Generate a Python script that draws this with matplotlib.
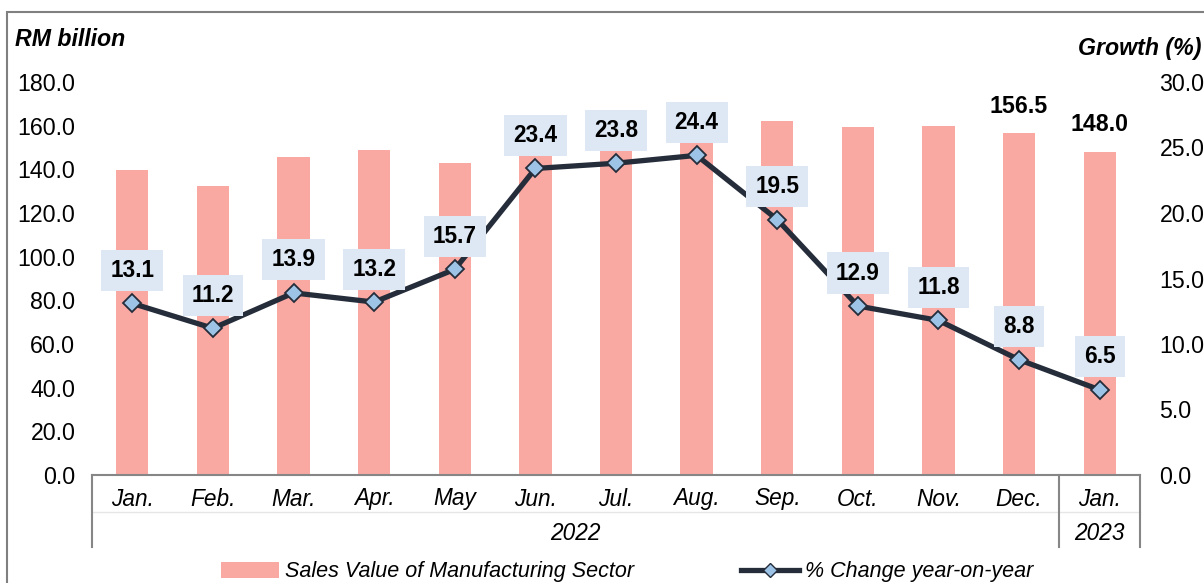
import matplotlib
matplotlib.use("Agg")
import matplotlib.pyplot as plt
from matplotlib.patches import Rectangle
from matplotlib.lines import Line2D

months = ["Jan.", "Feb.", "Mar.", "Apr.", "May", "Jun.", "Jul.", "Aug.",
          "Sep.", "Oct.", "Nov.", "Dec.", "Jan."]
years = ["2022", "2023"]
year_spans = [(0, 11), (12, 12)]
sales = [139.7, 132.4, 145.7, 148.9, 142.9, 148.9, 149.3, 154.5,
         162.1, 159.4, 159.8, 156.5, 148.0]
growth = [13.1, 11.2, 13.9, 13.2, 15.7, 23.4, 23.8, 24.4,
          19.5, 12.9, 11.8, 8.8, 6.5]
bar_label_idx = [11, 12]
left_ticks = [0, 20, 40, 60, 80, 100, 120, 140, 160, 180]
right_ticks = [0, 5, 10, 15, 20, 25, 30]

BAR_C = "#F9A8A2"
LINE_C = "#252D3B"
MARK_C = "#9DC3E6"
BOX_C = "#DDE8F4"
GRAY = "#868686"

plt.rcParams["font.family"] = ["Liberation Sans", "DejaVu Sans"]

W, H = 1204, 583
AX_H = 475 - 82
fig = plt.figure(figsize=(W / 100, H / 100), dpi=100)
ax = fig.add_axes([92 / W, 1 - 475 / H, (1140 - 92) / W, AX_H / H])
ax2 = ax.twinx()

x = list(range(len(months)))
ax.bar(x, sales, width=0.4, color=BAR_C, zorder=1)
ax.set_xlim(-0.5, len(months) - 0.5)
ax.set_ylim(0, 180)
ax.set_yticks(left_ticks)
ax.set_yticklabels([f"{v:.1f}" for v in left_ticks], fontsize=16.7)
ax.tick_params(axis="y", length=0, pad=12)
ax.set_xticks([])
for s in ["top", "left", "right"]:
    ax.spines[s].set_visible(False)
ax.spines["bottom"].set_color(GRAY)
ax.spines["bottom"].set_linewidth(1.5)

ax2.plot(x, growth, color=LINE_C, lw=3.8, marker="D", markersize=9,
         markerfacecolor=MARK_C, markeredgecolor=LINE_C, markeredgewidth=1.3,
         zorder=3)
ax2.set_ylim(0, 30)
ax2.set_yticks(right_ticks)
ax2.set_yticklabels([f"{v:.1f}" for v in right_ticks], fontsize=16.7)
ax2.tick_params(axis="y", length=0, pad=14)
for s in ["top", "left", "right", "bottom"]:
    ax2.spines[s].set_visible(False)
ax.set_zorder(1)
ax2.set_zorder(2)

for xi, g in zip(x, growth):
    ax2.annotate(f"{g:.1f}", (xi, g), xytext=(0, 33), textcoords="offset pixels",
                 ha="center", va="center", fontsize=16.3, fontweight="bold",
                 bbox=dict(boxstyle="square,pad=0.4", fc=BOX_C, ec="none"),
                 zorder=5)

for i in bar_label_idx:
    ax.annotate(f"{sales[i]:.1f}", (i, sales[i]), xytext=(0, 27),
                textcoords="offset pixels", ha="center", va="center",
                fontsize=16.7, fontweight="bold")

# hierarchical category axis
tr = ax.get_xaxis_transform()
for xi, m in zip(x, months):
    ax.annotate(m, (xi, 0), xycoords=tr, xytext=(0, -24), textcoords="offset pixels",
                ha="center", va="center", fontsize=16.3, style="italic",
                annotation_clip=False)
for (a, b), yr in zip(year_spans, years):
    ax.annotate(yr, ((a + b) / 2, 0), xycoords=tr, xytext=(0, -59),
                textcoords="offset pixels", ha="center", va="center",
                fontsize=16.3, style="italic", annotation_clip=False)

for xb in [-0.5, 11.5, len(months) - 0.5]:
    ln = Line2D([xb, xb], [0, -72 / AX_H], color=GRAY, lw=1.5, clip_on=False,
                transform=tr)
    ax.add_line(ln)
sep = Line2D([-0.5, len(months) - 0.5], [-37 / AX_H, -37 / AX_H], color="#E6E6E6",
             lw=1, clip_on=False, transform=tr, zorder=0)
ax.add_line(sep)

# axis titles
fig.text(15 / W, 1 - 40 / H, "RM billion", fontsize=16.7, fontweight="bold",
         style="italic", ha="left", va="center")
fig.text(1078 / W, 1 - 49 / H, "Growth (%)", fontsize=16.7, fontweight="bold",
         style="italic", ha="left", va="center")

# legend
h1 = Rectangle((0, 0), 1, 1, fc=BAR_C, ec="none")
h2 = Line2D([], [], color=LINE_C, lw=3.8, marker="D", markersize=7,
            markerfacecolor=MARK_C, markeredgecolor=LINE_C, markeredgewidth=1)
fig.legend([h1, h2], ["Sales Value of Manufacturing Sector", "% Change year-on-year"],
           loc="center", bbox_to_anchor=(627 / W, 1 - 572 / H), ncol=2, frameon=False,
           prop=dict(size=15.5, style="italic"), handlelength=2.7, handleheight=0.7,
           columnspacing=5.0, handletextpad=0.25)

# outer frame
fig.add_artist(Rectangle((7 / W, -0.1), 1.2, (1 - 12 / H) + 0.1,
                         transform=fig.transFigure, fill=False, ec="#808080", lw=1.5))

fig.savefig("out.png", dpi=100)
